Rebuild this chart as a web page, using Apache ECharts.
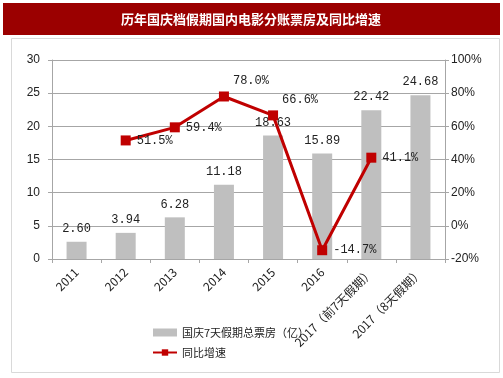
<!DOCTYPE html>
<html><head><meta charset="utf-8">
<script src="https://cdn.jsdelivr.net/npm/echarts@6/dist/echarts.min.js"></script>
<style>html,body{margin:0;padding:0;background:#fff}#c{width:503px;height:378px}</style>
</head><body><div id="c"></div>
<script>
const categories = ['2011','2012','2013','2014','2015','2016','2017（前7天假期）','2017（8天假期）'];
const boxOffice = [2.60, 3.94, 6.28, 11.18, 18.63, 15.89, 22.42, 24.68];
const growth = [null, 51.5, 59.4, 78.0, 66.6, -14.7, 41.1, null];
const leftTicks = {min: 0, max: 30, interval: 5};
const rightTicks = {min: -20, max: 100, interval: 20};
const titleText = '历年国庆档假期国内电影分账票房及同比增速';
const barName = '国庆7天假期总票房（亿）';
const lineName = '同比增速';

const chart = echarts.init(document.getElementById('c'), null, {renderer: 'canvas'});
const numFont = '"Liberation Mono", "DejaVu Sans Mono", monospace';
const axisFont = '"Liberation Sans", Arial, sans-serif';
chart.setOption({
  animation: false,
  graphic: [
    {type: 'rect', shape: {x: 11.5, y: 38.5, width: 488, height: 334}, style: {fill: 'none', stroke: '#d9d9d9', lineWidth: 1}, z: 0},
    {type: 'rect', shape: {x: 3, y: 3, width: 497, height: 32}, style: {fill: '#9b0000'}, z: 1},
    {type: 'text', x: 251, y: 19, style: {text: titleText, fill: '#fff', font: 'bold 13px "Noto Sans CJK SC"', textAlign: 'center', textVerticalAlign: 'middle'}, z: 2}
  ],
  grid: {left: 52, right: 58, top: 60, bottom: 119},
  legend: {
    orient: 'vertical', left: 147, top: 322, itemGap: 9, itemWidth: 24, itemHeight: 8,
    textStyle: {fontFamily: '"Noto Sans CJK SC"', fontSize: 11, color: '#222'},
    data: [{name: barName, icon: 'rect'}, {name: lineName}]
  },
  xAxis: {
    type: 'category', data: categories,
    axisLine: {lineStyle: {color: '#a6a6a6'}},
    axisTick: {show: true, length: 4, lineStyle: {color: '#a6a6a6'}},
    axisLabel: {interval: 0, rotate: 45, color: '#222', fontSize: 12, fontFamily: '"Noto Sans CJK SC"', margin: 11}
  },
  yAxis: [
    {type: 'value', min: leftTicks.min, max: leftTicks.max, interval: leftTicks.interval,
     axisLine: {show: true, lineStyle: {color: '#a6a6a6'}},
     axisTick: {show: true, length: 4, lineStyle: {color: '#a6a6a6'}},
     axisLabel: {color: '#222', fontSize: 12, fontFamily: axisFont, margin: 12},
     splitLine: {lineStyle: {color: '#a6a6a6', width: 1}}},
    {type: 'value', min: rightTicks.min, max: rightTicks.max, interval: rightTicks.interval,
     axisLine: {show: true, lineStyle: {color: '#a6a6a6'}},
     axisTick: {show: true, length: 4, lineStyle: {color: '#a6a6a6'}},
     axisLabel: {color: '#222', fontSize: 12, fontFamily: axisFont, formatter: '{value}%', margin: 6},
     splitLine: {show: false}}
  ],
  series: [
    {name: barName, type: 'bar', data: boxOffice, barWidth: 20, yAxisIndex: 0,
     itemStyle: {color: '#bfbfbf'},
     label: {show: true, position: 'top', distance: 7, color: '#222', fontSize: 12, fontFamily: numFont,
       formatter: p => p.value.toFixed(2)}},
    {name: lineName, type: 'line', data: growth, yAxisIndex: 1, connectNulls: false,
     symbol: 'rect', symbolSize: 10,
     lineStyle: {color: '#c00000', width: 3}, itemStyle: {color: '#c00000'},
     label: {show: true, position: 'right', distance: 6, color: '#222', fontSize: 12, fontFamily: numFont,
       formatter: p => p.value.toFixed(1) + '%'},
     labelLayout: function (params) {
       const i = params.dataIndex;
       if (i === 3 || i === 4) return {dy: -16, dx: -2};
       return {};
     }}
  ]
});
</script></body></html>
